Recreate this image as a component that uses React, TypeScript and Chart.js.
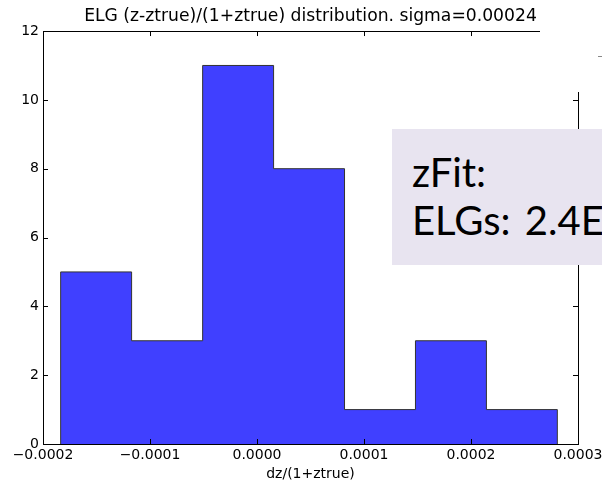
import React, { useEffect, useRef } from "react";
import { Chart, registerables } from "chart.js";

Chart.register(...registerables);

const TITLE = "ELG (z-ztrue)/(1+ztrue) distribution. sigma=0.00024";
const X_LABEL = "dz/(1+ztrue)";
const BIN_EDGES = [-0.0001835, -0.0001172, -0.0000508, 0.0000155, 0.0000818, 0.0001481, 0.0002144, 0.0002807];
const COUNTS = [5, 3, 11, 8, 1, 3, 1];
const X_MIN = -0.0002;
const X_MAX = 0.0003;
const X_STEP = 0.0001;
const Y_MIN = 0;
const Y_MAX = 12;
const Y_STEP = 2;
const BOX_LINES = ["zFit:", "ELGs: 2.4E"];

const FONT = "'DejaVu Sans', sans-serif";

function buildOutline() {
  const pts: { x: number; y: number }[] = [];
  pts.push({ x: BIN_EDGES[0], y: 0 });
  for (let i = 0; i < COUNTS.length; i++) {
    pts.push({ x: BIN_EDGES[i], y: COUNTS[i] });
  }
  const last = BIN_EDGES[BIN_EDGES.length - 1];
  pts.push({ x: last, y: COUNTS[COUNTS.length - 1] });
  pts.push({ x: last, y: 0 });
  return pts;
}

const framePlugin = {
  id: "mplFrame",
  afterDraw(chart: any) {
    const { ctx, chartArea, scales } = chart;
    const { left, right, top, bottom } = chartArea;
    const tl = 5;
    ctx.save();
    ctx.strokeStyle = "#000";
    ctx.lineWidth = 1;
    ctx.beginPath();
    const xs = scales.x;
    xs.ticks.forEach((t: any) => {
      const px = Math.round(xs.getPixelForValue(t.value)) + 0.5;
      if (px <= left + 1 || px >= right - 1) return;
      ctx.moveTo(px, bottom);
      ctx.lineTo(px, bottom - tl);
      ctx.moveTo(px, top);
      ctx.lineTo(px, top + tl);
    });
    const ys = scales.y;
    ys.ticks.forEach((t: any) => {
      const py = Math.round(ys.getPixelForValue(t.value)) + 0.5;
      if (py <= top + 1 || py >= bottom - 1) return;
      ctx.moveTo(left, py);
      ctx.lineTo(left + tl, py);
      ctx.moveTo(right, py);
      ctx.lineTo(right - tl, py);
    });
    ctx.stroke();
    ctx.strokeRect(Math.round(left) + 0.5, Math.round(top) + 0.5, Math.round(right - left), Math.round(bottom - top));
    ctx.restore();
  },
};

export default function App() {
  const ref = useRef<HTMLCanvasElement | null>(null);

  useEffect(() => {
    if (!ref.current) return;
    const chart = new Chart(ref.current, {
      type: "line",
      data: {
        datasets: [
          {
            data: buildOutline(),
            stepped: "before",
            fill: "origin",
            backgroundColor: "rgb(64,64,255)",
            borderColor: "#333333",
            borderWidth: 1,
            pointRadius: 0,
            tension: 0,
          },
        ],
      },
      options: {
        animation: false,
        responsive: false,
        maintainAspectRatio: false,
        layout: { padding: { left: 0, right: 24, top: 0, bottom: 0 } },
        plugins: {
          legend: { display: false },
          tooltip: { enabled: false },
          title: {
            display: true,
            fullSize: false,
            text: TITLE,
            color: "#000",
            font: { family: FONT, size: 17.2, weight: "normal" },
            padding: { top: 6.4, bottom: 4 },
          },
        },
        scales: {
          x: {
            type: "linear",
            min: X_MIN,
            max: X_MAX,
            grid: { display: false, drawTicks: false },
            border: { display: false },
            afterFit: (s: any) => {
              s.height = 41;
              s.paddingLeft = 0;
              s.paddingRight = 0;
            },
            ticks: {
              stepSize: X_STEP,
              autoSkip: false,
              maxRotation: 0,
              padding: 3,
              color: "#000",
              font: { family: FONT, size: 14 },
              callback: (v: any) => {
                const n = Number(v);
                const s = Math.abs(n) < 1e-12 ? "0.0000" : n.toFixed(4);
                return s.replace("-", "\u2212");
              },
            },
            title: {
              display: true,
              text: X_LABEL,
              color: "#000",
              font: { family: FONT, size: 14 },
              padding: { top: 0, bottom: 2 },
            },
          },
          y: {
            type: "linear",
            min: Y_MIN,
            max: Y_MAX,
            grid: { display: false, drawTicks: false },
            border: { display: false },
            afterFit: (s: any) => {
              s.width = 43;
            },
            ticks: {
              stepSize: Y_STEP,
              padding: 4,
              color: "#000",
              font: { family: FONT, size: 14 },
            },
          },
        },
      },
      plugins: [framePlugin],
    } as any);
    return () => chart.destroy();
  }, []);

  return (
    <div
      style={{
        position: "fixed",
        left: 0,
        top: 0,
        width: 602,
        height: 485,
        overflow: "hidden",
        background: "#fff",
      }}
    >
      <canvas ref={ref} width={602} height={485} style={{ position: "absolute", left: 0, top: 0 }} />
      <div style={{ position: "absolute", left: 540, top: 0, width: 62, height: 92, background: "#fff" }} />
      <div style={{ position: "absolute", left: 598, top: 56, width: 4, height: 1, background: "#888" }} />
      <div
        style={{
          position: "absolute",
          left: 392,
          top: 129,
          width: 240,
          height: 136,
          background: "#E8E4F0",
          overflow: "hidden",
        }}
      >
        <div
          style={{
            position: "absolute",
            left: 20,
            top: 19,
            fontFamily: "Lato, 'Open Sans', sans-serif",
            fontSize: 40,
            lineHeight: "48px",
            color: "#000",
            whiteSpace: "nowrap",
            wordSpacing: 4,
          }}
        >
          {BOX_LINES.map((l, i) => (
            <div key={i}>{l}</div>
          ))}
        </div>
      </div>
    </div>
  );
}
